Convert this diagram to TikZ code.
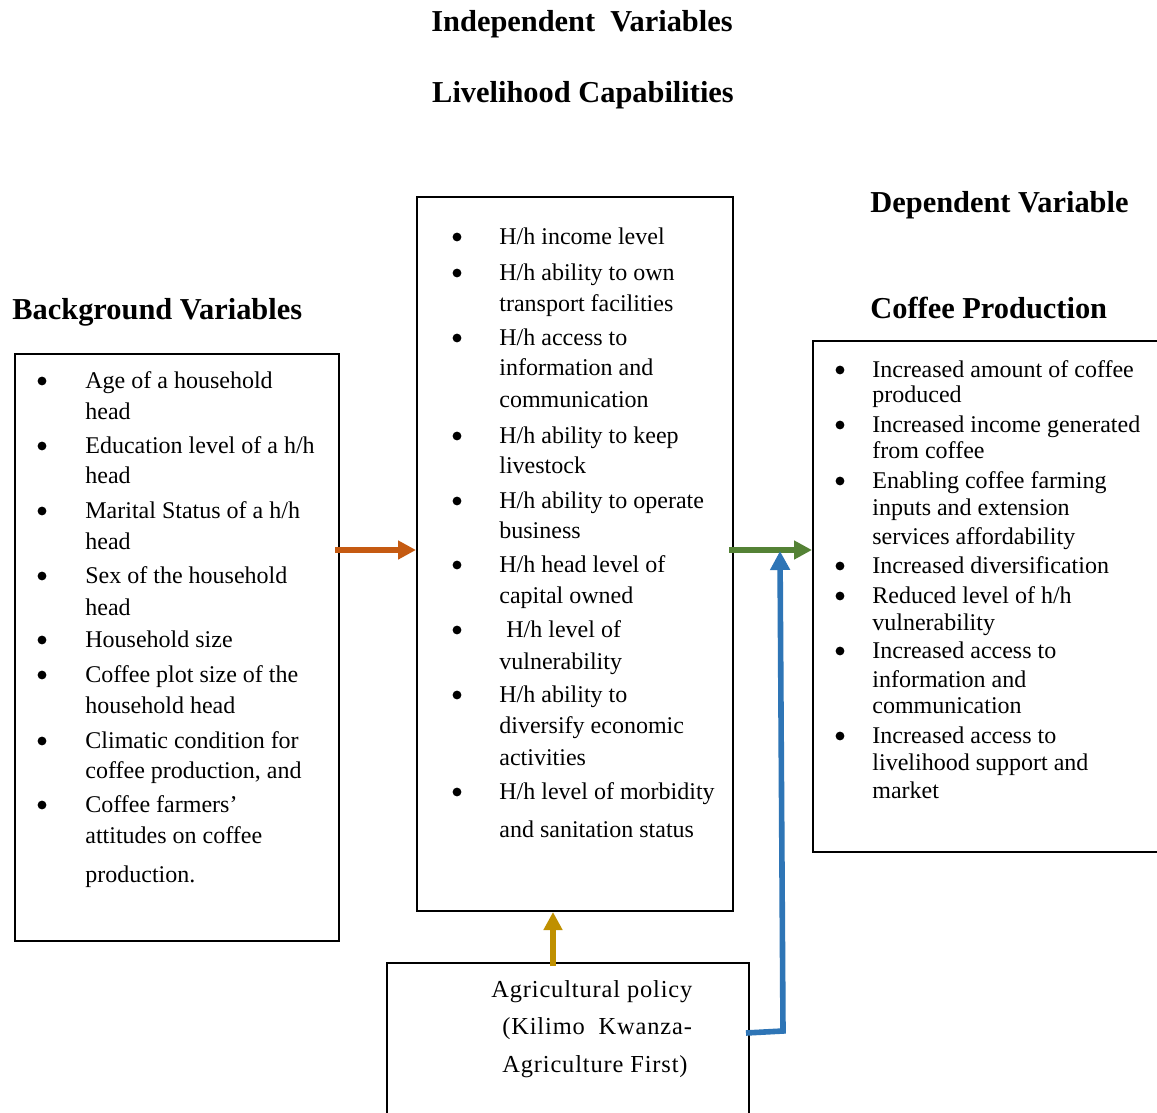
\documentclass[tikz,border=0pt]{standalone}
\usepackage{fontspec}
\setmainfont{Liberation Serif}
\usetikzlibrary{arrows.meta,fit}
\definecolor{corange}{HTML}{C55A11}
\definecolor{cgreen}{HTML}{548235}
\definecolor{cblue}{HTML}{2E75B6}
\definecolor{cgold}{HTML}{BF9000}
\begin{document}
\begin{tikzpicture}[x=0.5pt,y=-0.5pt,
  box/.style={draw=black,line width=1pt,inner sep=0pt},
  txt/.style={anchor=base west,inner sep=0pt,font=\fontsize{12}{14}\selectfont},
  ptxt/.style={anchor=base west,inner sep=0pt,font=\fontsize{12.2}{14}\selectfont\addfontfeature{LetterSpace=3.5}},
  bul/.style={circle,fill=black,inner sep=0pt,minimum size=4.4pt},
  hd/.style={inner sep=0pt,font=\fontsize{15.2}{17}\selectfont\bfseries},
  arr/.style={line width=2.6pt,-{Triangle[length=9pt,width=9pt]}}]
\useasboundingbox[fill=white] (0,0) rectangle (1157,1113);

% headings
\node[hd,anchor=base] (h1) at (582,32) {Independent\ \ Variables};
\node[hd,anchor=base] (h2) at (583,103) {Livelihood Capabilities};
\node[hd,anchor=base west] (h3) at (12,319) {Background Variables};
\node[hd,anchor=base west] (h4) at (870,213) {Dependent Variable};
\node[hd,anchor=base west] (h5) at (870,318) {Coffee Production};

% boxes
\node[box,fit={(15,354) (339,941)}] (bg) {};
\node[box,fit={(417,197) (733,911)}] (mid) {};
\node[box,fit={(813,341) (1175,852)}] (dep) {};
\node[box,fit={(387,963) (749,1135)}] (pol) {};

% left box text
\foreach \y/\t in {388/{Age of a household}, 419/{head}, 453/{Education level of a h/h}, 483/{head},
  518/{Marital Status of a h/h}, 549/{head}, 583/{Sex of the household}, 615/{head},
  647/{Household size}, 682/{Coffee plot size of the}, 713/{household head},
  748/{Climatic condition for}, 778/{coffee production, and}, 812/{Coffee farmers’},
  843/{attitudes on coffee}, 882/{production.}}
  \node[txt] (l\y) at (85,\y) {\t};
\foreach \y in {388,453,518,583,647,682,748,812}
  \node[bul] (lb\y) at (42,\y-7) {};

% middle box text
\foreach \y/\t in {244/{H/h income level}, 280/{H/h ability to own}, 311/{transport facilities},
  345/{H/h access to}, 375/{information and}, 407/{communication},
  443/{H/h ability to keep}, 473/{livestock}, 508/{H/h ability to operate}, 538/{business},
  572/{H/h head level of}, 603/{capital owned}, 669/{vulnerability},
  702/{H/h ability to}, 733/{diversify economic}, 765/{activities},
  799/{H/h level of morbidity}, 837/{and sanitation status}}
  \node[txt] (m\y) at (499,\y) {\t};
\node[txt] (m637) at (506,637) {H/h level of};
\foreach \y in {244,280,345,443,508,572,637,702,799}
  \node[bul] (mb\y) at (457,\y-7) {};

% right box text
\foreach \y/\t in {377/{Increased amount of coffee}, 402/{produced}, 432/{Increased income generated},
  458/{from coffee}, 488/{Enabling coffee farming}, 515/{inputs and extension},
  544/{services affordability}, 573/{Increased diversification}, 603/{Reduced level of h/h},
  630/{vulnerability}, 658/{Increased access to}, 687/{information and}, 713/{communication},
  743/{Increased access to}, 770/{livelihood support and}, 798/{market}}
  \node[txt] (r\y) at (872,\y) {\t};
\foreach \y in {377,432,488,573,603,658,743}
  \node[bul] (rb\y) at (840,\y-7) {};

% policy box text
\node[ptxt] (p1) at (491,997) {Agricultural policy};
\node[ptxt] (p2) at (502,1034) {(Kilimo\ \ Kwanza-};
\node[ptxt] (p3) at (502,1072) {Agriculture First)};

% connectors
\coordinate (oa) at (335,550);
\coordinate (ga) at (729,550);
\coordinate (ya) at (553,966);
\coordinate (b0) at (746,1033);
\coordinate (b1) at (783,1031);
\coordinate (b2) at (780,551);
\draw[arr,draw=corange] (oa) -- (mid.west |- oa);
\draw[arr,draw=cgreen] (ga) -- (dep.west |- ga);
\draw[arr,draw=cgold] (ya) -- (mid.south -| ya);
\draw[line width=2.8pt,draw=cblue,-{Triangle[length=9.5pt,width=9.5pt]},line join=miter]
  (b0) -- (b1) -- (b2);
\end{tikzpicture}
\end{document}
